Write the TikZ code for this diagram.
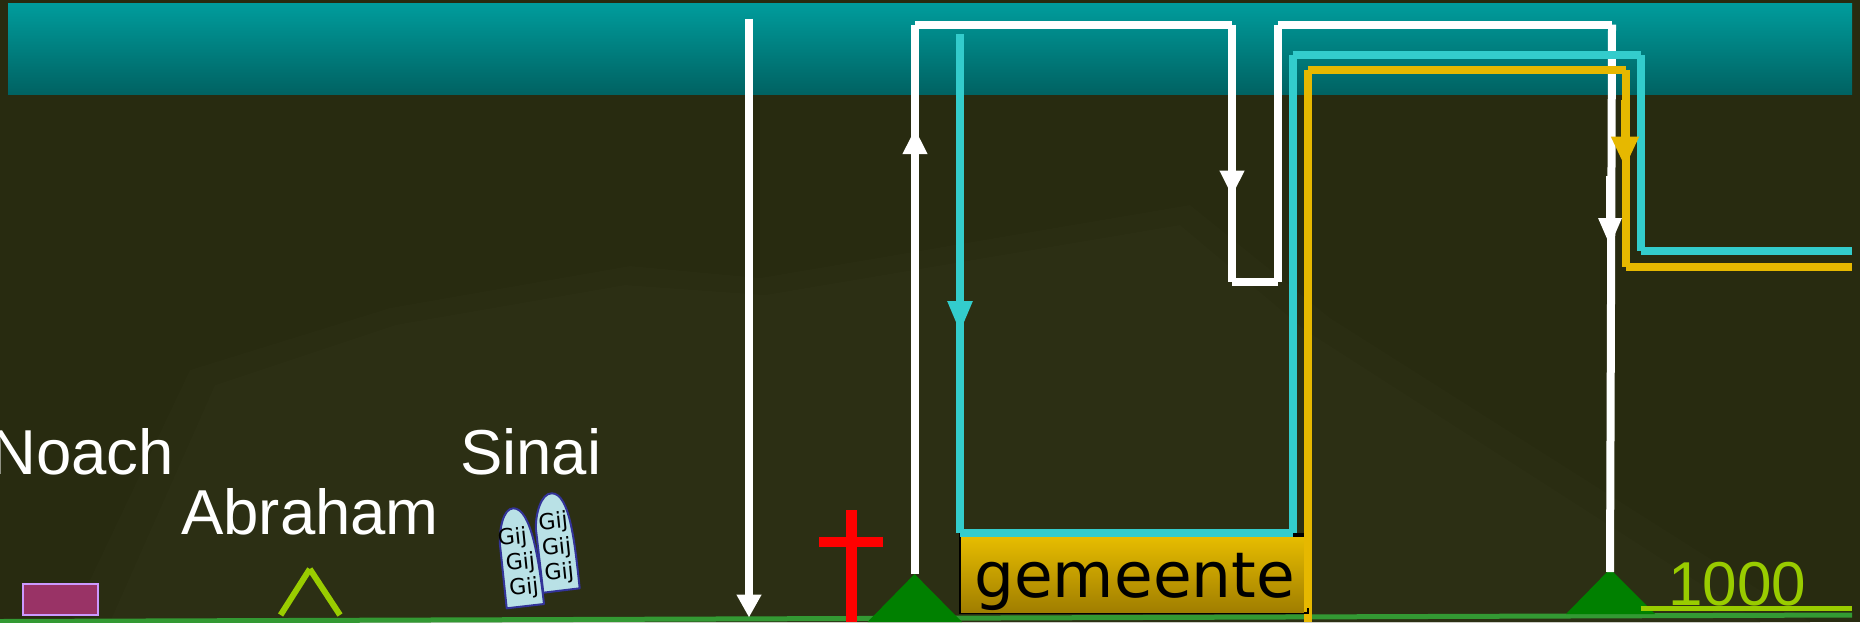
\documentclass[tikz,border=0pt]{standalone}
\usepackage{fontspec}
\setmainfont{Liberation Sans}
\newfontfamily\dejavu{DejaVu Sans}
\usetikzlibrary{arrows.meta}
\definecolor{bgdark}{HTML}{282B10}
\definecolor{bookm}{HTML}{2A2D12}
\definecolor{bookc}{HTML}{2C2F14}
\definecolor{bandtop}{HTML}{009C9C}
\definecolor{bandbot}{HTML}{006262}
\definecolor{cyanl}{HTML}{33CCCC}
\definecolor{yell}{HTML}{E6B800}
\definecolor{goldtop}{HTML}{E6BC00}
\definecolor{goldbot}{HTML}{A07E00}
\definecolor{groundc}{HTML}{339933}
\definecolor{peakc}{HTML}{008000}
\definecolor{lime}{HTML}{99CC00}
\definecolor{plum}{HTML}{993366}
\definecolor{plumb}{HTML}{CC99FF}
\definecolor{stone}{HTML}{B9E1E6}
\definecolor{stoneb}{HTML}{333399}
\tikzset{
 wline/.style={draw=white,line width=8pt},
 cline/.style={draw=cyanl,line width=8pt},
 yline/.style={draw=yell,line width=8pt},
 label/.style={text=white,anchor=base west,inner sep=0pt,font=\fontsize{63.5}{70}\selectfont},
 gij/.style={text=black,inner sep=0pt,rotate=6,font=\dejavu\fontsize{22}{24}\selectfont},
 tablet/.style={fill=stone,draw=stoneb,line width=2pt,line join=round},
 wtip/.style={-{Triangle[length=25.6pt,width=23pt]},draw=white,line width=8.6pt},
 wtipc/.style={-{Triangle[length=28.7pt,width=21.5pt]},draw=white,line width=8.6pt},
 wtipb/.style={-{Triangle[length=23pt,width=23.6pt]},draw=white,line width=8.6pt},
 ctip/.style={-{Triangle[length=32pt,width=23pt]},draw=cyanl,line width=8.6pt},
 ytip/.style={-{Triangle[length=31pt,width=25.7pt]},draw=yell,line width=9pt},
}
\begin{document}
\begin{tikzpicture}[x=1pt,y=-1pt]
\useasboundingbox (0,0) rectangle (1860,622);
\clip (0,0) rectangle (1860,622);
\fill[bgdark] (0,0) rectangle (1860,622);
\fill[bookm] (70,622) -- (190,370) -- (390,308) -- (630,266) -- (760,278) -- (1190,205) -- (1330,318) -- (1810,622) -- cycle;
\fill[bookc] (110,622) -- (215,385) -- (395,325) -- (625,285) -- (765,295) -- (1180,225) -- (1305,330) -- (1760,622) -- cycle;
\shade[top color=bandtop,bottom color=bandbot] (8,3.7) rectangle (1852,94);
% waypoints
\coordinate (a1) at (749,18.7); \coordinate (a2) at (749,600); \coordinate (a3) at (749,617.5);
\coordinate (w0) at (915,574); \coordinate (w1) at (915,24.7); \coordinate (w2) at (1232,24.7);
\coordinate (w3) at (1232,281.7); \coordinate (w4) at (1277.6,281.7); \coordinate (w5) at (1277.6,24.7);
\coordinate (w6) at (1612,24.7); \coordinate (w7) at (1610,572);
\coordinate (c0) at (960,34); \coordinate (c1) at (960,533); \coordinate (c2) at (1292.6,533);
\coordinate (c3) at (1292.6,55); \coordinate (c4) at (1640.6,55); \coordinate (c5) at (1640.6,251); \coordinate (c6) at (1852,251);
\coordinate (y0) at (1307.7,622); \coordinate (y1) at (1307.7,69.7); \coordinate (y2) at (1625.5,69.7);
\coordinate (y3) at (1625.5,266.7); \coordinate (y4) at (1852,266.7);
% ground
\fill[groundc] (0,619) -- (1852,612.5) -- (1852,617.5) -- (0,624) -- cycle;
\fill[peakc] (867.5,622) -- (914.6,574) -- (962,622) -- cycle;
\fill[peakc] (1566,614) -- (1610,569) -- (1655,614) -- cycle;
% cross
\fill[red] (846,510) rectangle (856.6,622);
\fill[red] (819,536.7) rectangle (883,547.3);
% white lines
\draw[wline] (a1) -- (a2);
\draw[wtipb] (749,553) -- (a3);
\draw[wline] (w0) -- (w1); \draw[wtip] (915,193) -- (915,128.4);
\draw[wline] (w1) -- (w2); \draw[wline] (w2) -- (w3); \draw[wtip] (1232,130) -- (1232,196.3);
\draw[wline] (w3) -- (w4); \draw[wline] (w4) -- (w5); \draw[wline] (w5) -- (w6);
\draw[wline] (w6) -- (w7); \draw[wtipc] (1610,176) -- (1610,246.7);
% gemeente box
\fill[black] (959,533) rectangle (1309,614);
\shade[top color=goldtop,bottom color=goldbot] (961,537) rectangle (1305,612);
\node[anchor=base west,inner sep=0pt,text=black,font=\dejavu\fontsize{63}{70}\selectfont] (gem) at (974,597) {gemeente};
% cyan line
\draw[cline] (c0) -- (c1); \draw[ctip] (960,260) -- (960,333);
\draw[cline] (c1) -- (c2); \draw[cline] (c2) -- (c3); \draw[cline] (c3) -- (c4); \draw[cline] (c4) -- (c5); \draw[cline] (c5) -- (c6);
% yellow line
\draw[yline] (y0) -- (y1); \draw[yline] (y1) -- (y2); \draw[yline] (y2) -- (y3); \draw[ytip] (1625,100) -- (1625,167.7); \draw[yline] (y3) -- (y4);
\fill[black] (1306.6,608) rectangle (1309,614);
\fill[black] (1304,612) rectangle (1309,614);
% labels
\node[label] (noach) at (-10,474) {Noach};
\node[label] (abraham) at (181,534) {Abraham};
\node[label] (sinai) at (460,474) {Sinai};
% altars
\node[fill=plum,draw=plumb,line width=2pt,minimum width=75pt,minimum height=31pt,inner sep=0pt] (ark) at (60.6,599) {};
\coordinate (ap) at (309.8,569);
\draw[lime,line width=6pt] (280.6,615) -- (ap);
\draw[lime,line width=6pt] (340,615) -- (ap);
% tablets
\draw[tablet] (543.3,592.7) -- (579.7,588.3) .. controls (575,545) and (570,493) .. (551.7,493.3) .. controls (541,493) and (535,515) .. (536,530) -- cycle;
\node[gij] (r1) at (553.3,522.7) {Gij};
\node[gij] (r2) at (556.7,548.3) {Gij};
\node[gij] (r3) at (559.3,573.3) {Gij};
\draw[tablet] (506.7,608.3) -- (544,604) .. controls (539,560) and (531,508) .. (513.3,508.3) .. controls (503,508.3) and (499,530) .. (500,545) -- cycle;
\node[gij] (l1) at (512.5,538.3) {Gij};
\node[gij] (l2) at (520.5,563.3) {Gij};
\node[gij] (l3) at (524,588.3) {Gij};
% 1000
\node[anchor=base west,inner sep=0pt,text=lime,font=\fontsize{62}{70}\selectfont] (mil) at (1668,605) {1000};
\draw[lime,line width=5pt] (1640.7,608) -- (1852,608);
\end{tikzpicture}
\end{document}
